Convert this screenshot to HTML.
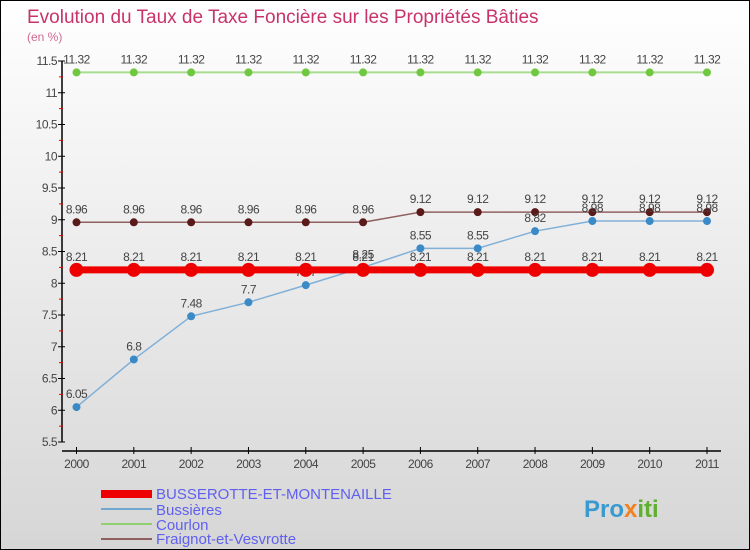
<!DOCTYPE html>
<html><head><meta charset="utf-8"><style>
body{margin:0}
#c{width:750px;height:550px;position:relative;box-sizing:border-box;border:1px solid #000;background:linear-gradient(#ffffff,#d6d6d6);font-family:"Liberation Sans",sans-serif;overflow:hidden}
</style></head><body>
<div id="c">
<svg id="s" width="750" height="550" style="position:absolute;left:0;top:0">
<text x="26" y="22" font-size="19" fill="#c8336a">Evolution du Taux de Taxe Foncière sur les Propriétés Bâties</text>
<text x="26" y="40" font-size="12" fill="#d06a92">(en %)</text>
<g id="axes"></g><g id="series"></g>
<g>
<rect x="100" y="489" width="51" height="8" fill="#e00"/>
<text x="155" y="498" font-size="15" fill="#6060f0">BUSSEROTTE-ET-MONTENAILLE</text>
<rect x="100" y="507" width="51" height="2" fill="#70a8d0"/>
<text x="155" y="514" font-size="15" fill="#6060f0">Bussières</text>
<rect x="100" y="522" width="51" height="2" fill="#90d070"/>
<text x="155" y="529" font-size="15" fill="#6060f0">Courlon</text>
<rect x="100" y="537" width="51" height="2" fill="#906060"/>
<text x="155" y="543" font-size="15" fill="#6060f0">Fraignot-et-Vesvrotte</text>
</g>
<text x="583" y="516" font-size="24" font-weight="bold" fill="#3a9ad0">Pro<tspan fill="#f08020">x</tspan><tspan fill="#60b030">iti</tspan></text>
</svg>
</div>
<script>
const years=[2000,2001,2002,2003,2004,2005,2006,2007,2008,2009,2010,2011];
const busserotte=[8.21,8.21,8.21,8.21,8.21,8.21,8.21,8.21,8.21,8.21,8.21,8.21];
const bussieres=[6.05,6.8,7.48,7.7,7.97,8.25,8.55,8.55,8.82,8.98,8.98,8.98];
const courlon=[11.32,11.32,11.32,11.32,11.32,11.32,11.32,11.32,11.32,11.32,11.32,11.32];
const fraignot=[8.96,8.96,8.96,8.96,8.96,8.96,9.12,9.12,9.12,9.12,9.12,9.12];
const yTicks=[5.5,6,6.5,7,7.5,8,8.5,9,9.5,10,10.5,11,11.5];
const NS="http://www.w3.org/2000/svg";
function X(i){return 75.5+i*(706-75.5)/11;}
function Y(v){return 441-(v-5.5)*(381/6);}
function mk(t,a,p){const e=document.createElementNS(NS,t);for(const k in a)e.setAttribute(k,a[k]);p.appendChild(e);return e;}
const ax=document.getElementById('axes');
let l=mk('line',{x1:61,y1:60,x2:61,y2:441,stroke:'#000','stroke-width':1.5},ax);


l=mk('line',{x1:61,y1:450,x2:720,y2:450,stroke:'#000','stroke-width':1.5},ax);


yTicks.forEach((v,i)=>{
  const y=Y(v);
  mk('line',{x1:57,y1:y,x2:64,y2:y,stroke:'#000'},ax);
  if(i<yTicks.length-1)mk('line',{x1:58,y1:Y(v+0.25),x2:62,y2:Y(v+0.25),stroke:'#e00'},ax);
  const t=mk('text',{x:56,y:y+4,'font-size':12,fill:'#444','text-anchor':'end','letter-spacing':'-0.5'},ax);
  t.textContent=String(v);
  
  
});
years.forEach((yr,i)=>{
  mk('line',{x1:X(i),y1:446,x2:X(i),y2:453,stroke:'#000'},ax);
  const t=mk('text',{x:X(i),y:467,'font-size':12,fill:'#444','text-anchor':'middle','letter-spacing':'-0.5'},ax);
  t.textContent=String(yr);
  
  
});
const sg=document.getElementById('series');
function series(name,vals,lc,lw,pc,r){
  const g=mk('g',{},sg);
  
  
  const p=mk('polyline',{points:vals.map((v,i)=>X(i)+','+Y(v)).join(' '),fill:'none',stroke:lc,'stroke-width':lw},g);
  
  
  vals.forEach((v,i)=>{
    const c=mk('circle',{cx:X(i),cy:Y(v),r:r,fill:pc},g);
    
    
    const t=mk('text',{x:X(i),y:Y(v)-9,'font-size':12,fill:'#444','text-anchor':'middle','letter-spacing':'-0.5'},g);
    t.textContent=String(v);
    
    
  });
}
series('courlon',courlon,'#a8dc90',2,'#70c840',4);
series('fraignot',fraignot,'#906060',1.5,'#5a1a1a',4);
series('bussieres',bussieres,'#80b0d8',1.5,'#3a8ac8',4);
series('busserotte',busserotte,'#ee0000',7,'#ee0000',7);
</script>
</body></html>
